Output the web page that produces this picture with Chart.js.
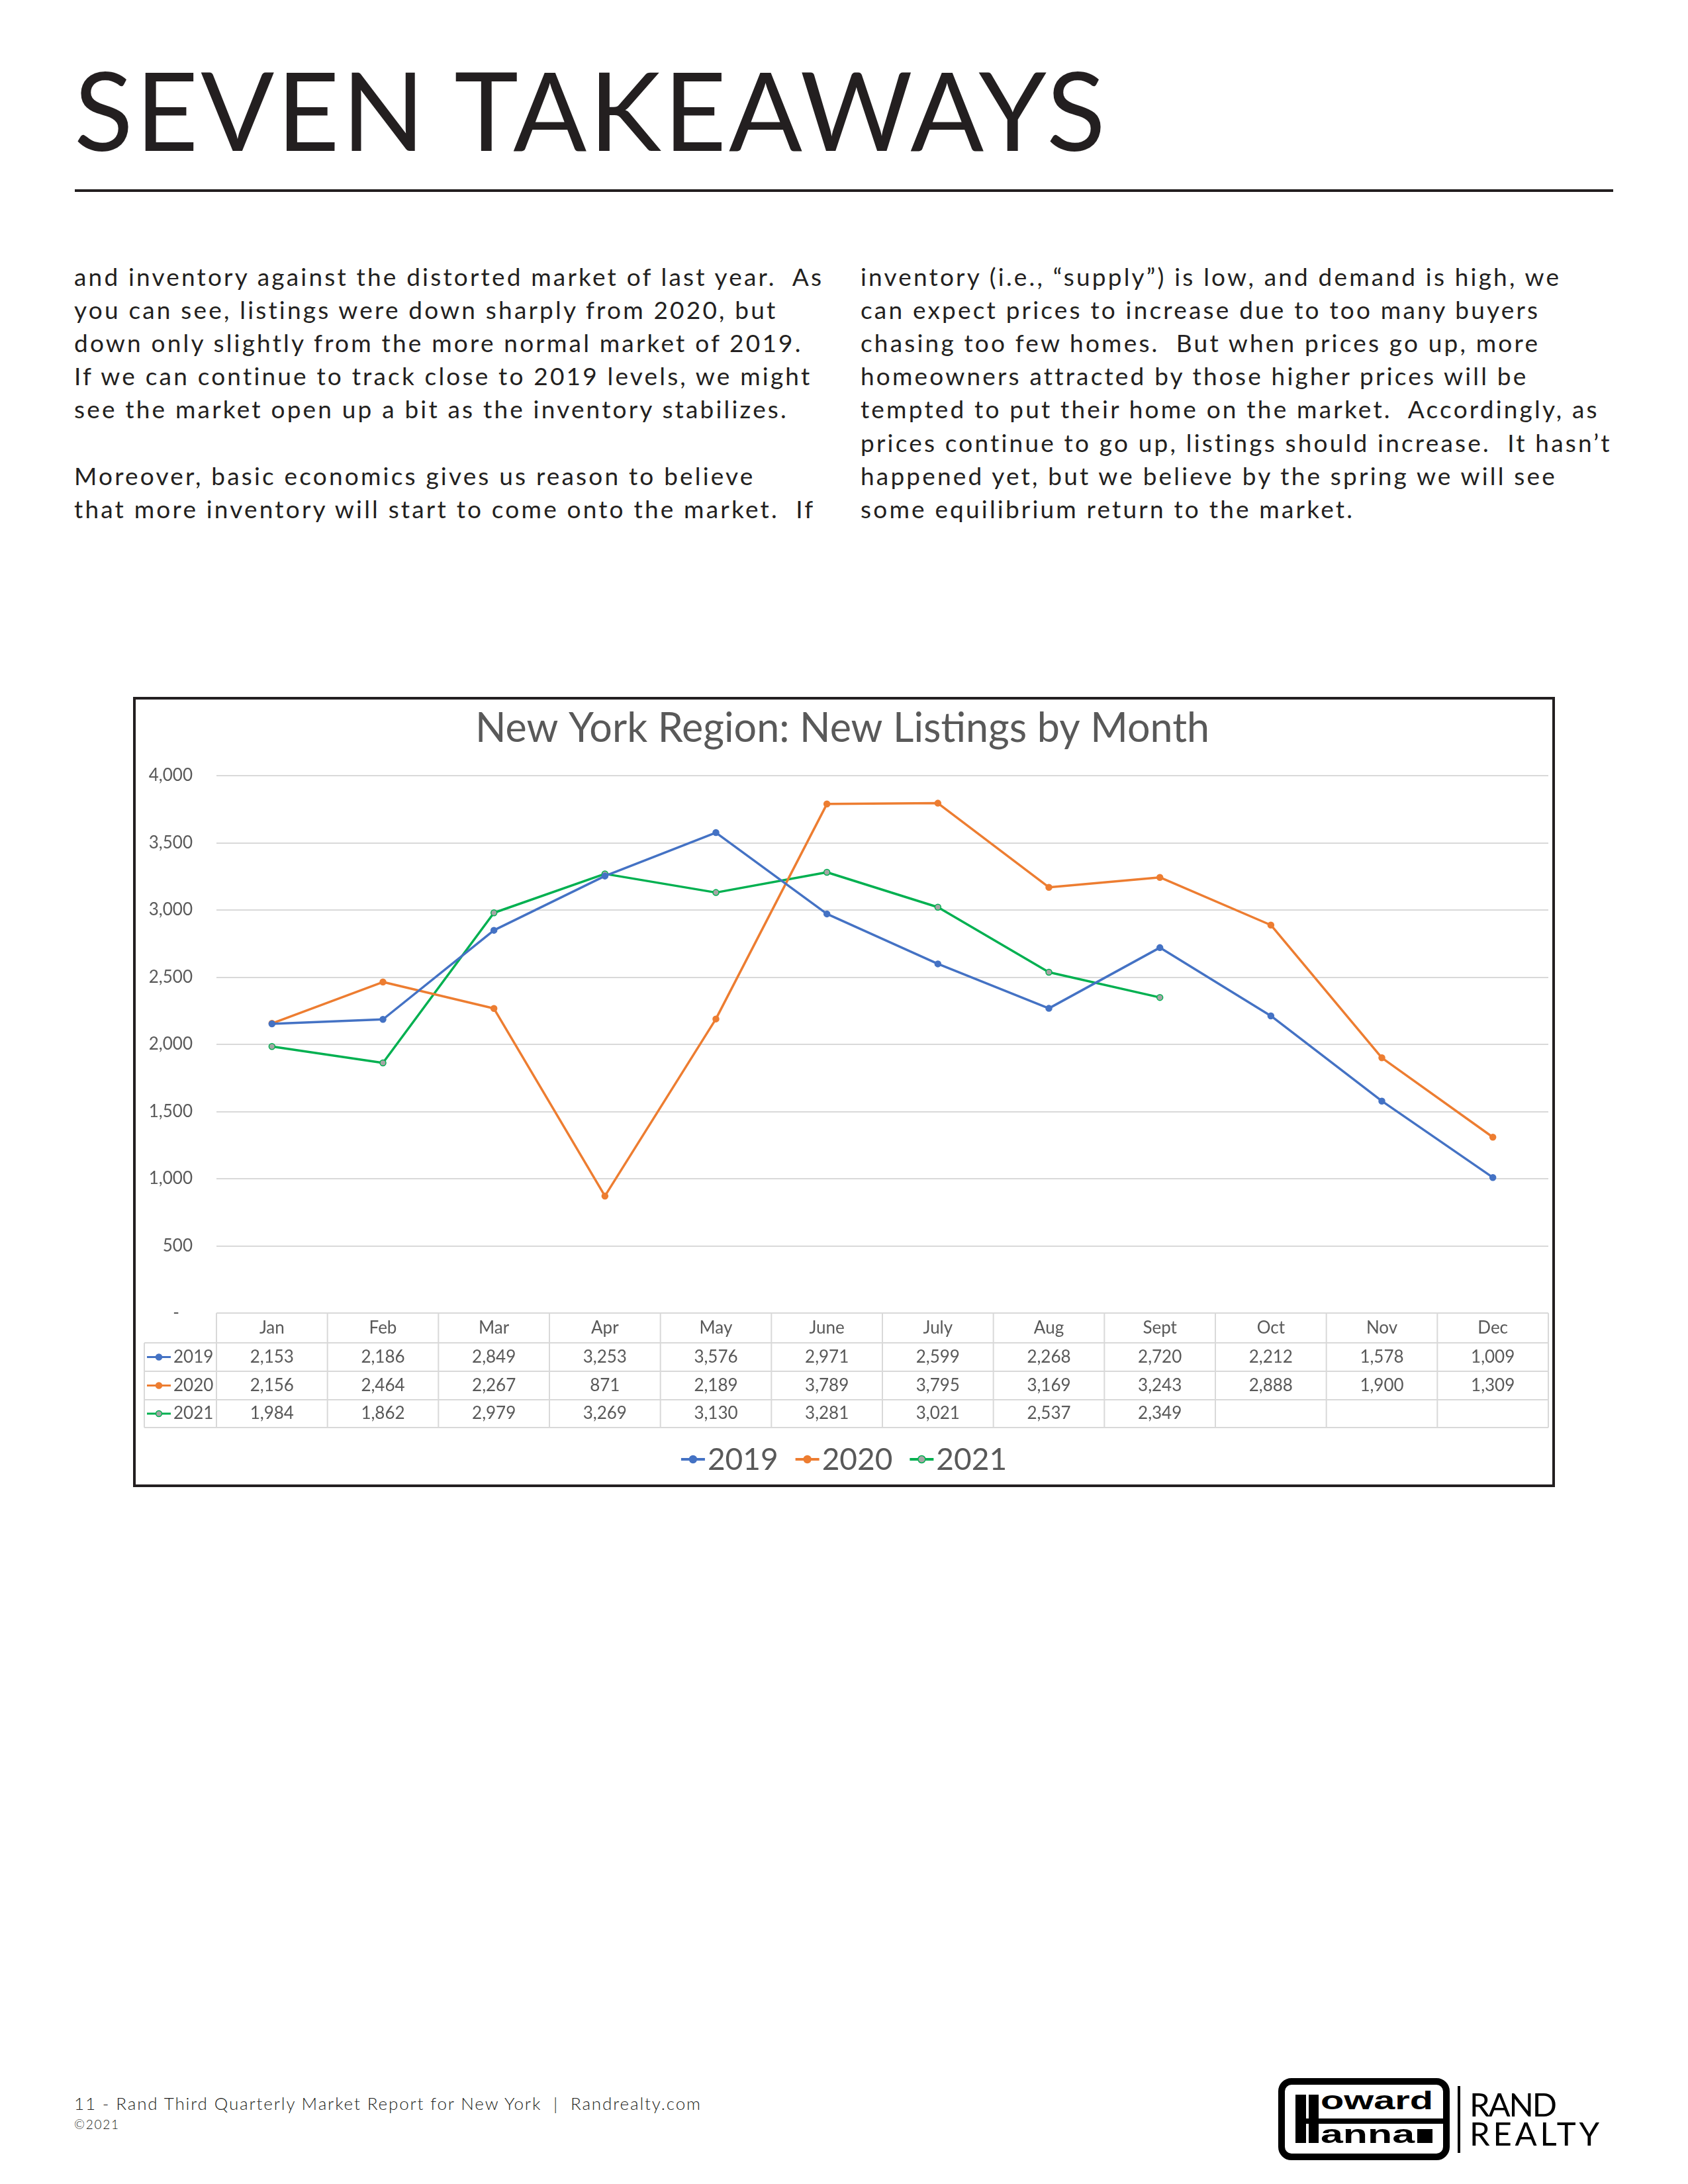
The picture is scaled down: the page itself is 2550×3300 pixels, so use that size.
<!DOCTYPE html>
<html>
<head>
<meta charset="utf-8">
<script src="https://cdn.jsdelivr.net/npm/chart.js@4.4.0/dist/chart.umd.min.js"></script>
<style>
html,body{margin:0;padding:0;background:#fff;}
body{width:2550px;height:3300px;position:relative;overflow:hidden;font-family:Lato,sans-serif;color:#231f20;}
.abs{position:absolute;white-space:pre;}
</style>
</head>
<body>
<div id="pageTitle" class="abs" style="left:112px;top:83px;font-size:164px;line-height:164px;">SEVEN TAKEAWAYS</div>
<div class="abs" style="left:113px;top:286px;width:2324px;height:4px;background:#231f20;"></div>
<div id="colLeft"></div>
<div id="colRight"></div>

<div class="abs" style="left:201px;top:1053px;width:2148px;height:1194px;border:4px solid #231f20;box-sizing:border-box;"></div>
<canvas id="chart" width="2140" height="1186" style="position:absolute;left:205px;top:1057px;width:2140px;height:1186px;"></canvas>

<div id="foot1" class="abs" style="left:112px;top:3165px;font-size:26px;line-height:26px;font-weight:300;">11 - Rand Third Quarterly Market Report for New York  |  Randrealty.com</div>
<div id="foot2" class="abs" style="left:112px;top:3200px;font-size:19px;line-height:19px;font-weight:300;">©2021</div>

<!-- logo -->
<div class="abs" style="left:1931px;top:3140px;width:259px;height:124px;border:10px solid #000;border-radius:20px;box-sizing:border-box;"></div>
<div class="abs" style="left:1957px;top:3165px;width:16px;height:73px;background:#000;"></div>
<div class="abs" style="left:1977px;top:3165px;width:15px;height:73px;background:#000;"></div>
<div class="abs" style="left:1957px;top:3201px;width:225px;height:8px;background:#000;"></div>
<div id="lgOward" class="abs" style="left:1995px;top:3155px;font-family:'Liberation Sans',Arial,sans-serif;font-weight:bold;font-size:38px;line-height:38px;color:#000;transform-origin:0 0;">oward</div>
<div id="lgAnna" class="abs" style="left:1995px;top:3206px;font-family:'Liberation Sans',Arial,sans-serif;font-weight:bold;font-size:38px;line-height:38px;color:#000;transform-origin:0 0;">anna</div>
<div class="abs" style="left:2141px;top:3217px;width:23px;height:21px;background:#000;"></div>
<div class="abs" style="left:2202px;top:3152px;width:4px;height:101px;background:#000;"></div>
<div id="lgRand" class="abs" style="left:2220px;top:3155px;font-size:49px;line-height:49px;color:#000;">RAND</div>
<div id="lgRealty" class="abs" style="left:2220px;top:3199px;font-size:49px;line-height:49px;color:#000;">REALTY</div>

<script>
// ---------- text content ----------
const leftLines = [
  "and inventory against the distorted market of last year.  As",
  "you can see, listings were down sharply from 2020, but",
  "down only slightly from the more normal market of 2019.",
  "If we can continue to track close to 2019 levels, we might",
  "see the market open up a bit as the inventory stabilizes.",
  "",
  "Moreover, basic economics gives us reason to believe",
  "that more inventory will start to come onto the market.  If"
];
const rightLines = [
  "inventory (i.e., \u201csupply\u201d) is low, and demand is high, we",
  "can expect prices to increase due to too many buyers",
  "chasing too few homes.  But when prices go up, more",
  "homeowners attracted by those higher prices will be",
  "tempted to put their home on the market.  Accordingly, as",
  "prices continue to go up, listings should increase.  It hasn\u2019t",
  "happened yet, but we believe by the spring we will see",
  "some equilibrium return to the market."
];

// ---------- chart data ----------
const chartTitle = "New York Region: New Listings by Month";
const months = ["Jan","Feb","Mar","Apr","May","June","July","Aug","Sept","Oct","Nov","Dec"];
const seriesNames = ["2019","2020","2021"];
const listings2019 = [2153,2186,2849,3253,3576,2971,2599,2268,2720,2212,1578,1009];
const listings2020 = [2156,2464,2267,871,2189,3789,3795,3169,3243,2888,1900,1309];
const listings2021 = [1984,1862,2979,3269,3130,3281,3021,2537,2349,null,null,null];
const yTickLabels = ["-","500","1,000","1,500","2,000","2,500","3,000","3,500","4,000"];

// ---------- helpers ----------
function spacingFor(el, target){
  el.style.letterSpacing = "0px";
  const w = el.getBoundingClientRect().width;
  const n = el.textContent.length;
  return (target - w) / Math.max(1, n - 1);
}
function fit(el, target){
  el.style.letterSpacing = spacingFor(el, target) + "px";
}
function fitScale(el, target){
  el.style.transform = "none";
  const w = el.getBoundingClientRect().width;
  el.style.transform = "scaleX(" + (target / w) + ")";
}

const BODY_F = 37, BODY_L = 50.2, BODY_BASE = 432;
function buildColumn(container, lines, left){
  const els = [];
  lines.forEach((t, i) => {
    const d = document.createElement("div");
    d.className = "abs";
    d.style.left = left + "px";
    d.style.top = (BODY_BASE - BODY_L / 2 - 0.387 * BODY_F + i * BODY_L) + "px";
    d.style.fontSize = BODY_F + "px";
    d.style.lineHeight = BODY_L + "px";
    d.textContent = t;
    container.appendChild(d);
    els.push(d);
  });
  return els;
}

const lEls = buildColumn(document.getElementById("colLeft"), leftLines, 112);
const rEls = buildColumn(document.getElementById("colRight"), rightLines, 1300);
const bodyLS = spacingFor(lEls[0], 1129);
lEls.concat(rEls).forEach(e => e.style.letterSpacing = bodyLS + "px");

fit(document.getElementById("pageTitle"), 1558);
fit(document.getElementById("foot1"), 946);
fit(document.getElementById("foot2"), 67);
fitScale(document.getElementById("lgOward"), 170);
fitScale(document.getElementById("lgAnna"), 142);
fit(document.getElementById("lgRand"), 132);
fit(document.getElementById("lgRealty"), 196);

// ---------- chart ----------
const grey = "#595959";
const colors = {
  "2019": {line:"#4472C4", fill:"#4472C4"},
  "2020": {line:"#ED7D31", fill:"#ED7D31"},
  "2021": {line:"#00B050", fill:"#A5A5A5"}
};
const TABLE_H = 173;
const HDR_H = 45;
const ROW_H = [43, 43, 42];

const dataTablePlugin = {
  id: "dataTable",
  afterDraw(chart){
    const ctx = chart.ctx, xs = chart.scales.x, area = chart.chartArea;
    const n = chart.data.labels.length;
    const colW = (xs.right - xs.left) / n;
    const top = area.bottom;
    const ys = [top, top + HDR_H];
    ROW_H.forEach(h => ys.push(ys[ys.length - 1] + h));
    const hdrLeft = xs.left - 109;
    ctx.save();
    ctx.strokeStyle = "#D9D9D9";
    ctx.lineWidth = 2;
    ctx.beginPath();
    ctx.moveTo(xs.left, ys[0]); ctx.lineTo(xs.right, ys[0]);
    for (let r = 1; r < ys.length; r++){ ctx.moveTo(hdrLeft, ys[r]); ctx.lineTo(xs.right, ys[r]); }
    for (let c = 0; c <= n; c++){ const x = xs.left + c * colW; ctx.moveTo(x, ys[0]); ctx.lineTo(x, ys[ys.length-1]); }
    ctx.moveTo(hdrLeft, ys[1]); ctx.lineTo(hdrLeft, ys[ys.length-1]);
    ctx.stroke();

    ctx.fillStyle = grey;
    ctx.font = "26px Lato";
    ctx.textBaseline = "middle";
    ctx.textAlign = "center";
    chart.data.labels.forEach((lab, i) => {
      ctx.fillText(lab, xs.getPixelForValue(i), (ys[0] + ys[1]) / 2);
    });
    chart.data.datasets.forEach((ds, r) => {
      const yMid = (ys[r+1] + ys[r+2]) / 2;
      ds.data.forEach((v, i) => {
        if (v === null || v === undefined) return;
        ctx.fillStyle = grey;
        ctx.textAlign = "center";
        ctx.fillText(v.toLocaleString("en-US"), xs.getPixelForValue(i), yMid);
      });
      ctx.strokeStyle = ds.borderColor;
      ctx.lineWidth = 3;
      ctx.beginPath();
      ctx.moveTo(hdrLeft + 4, yMid); ctx.lineTo(hdrLeft + 40, yMid);
      ctx.stroke();
      ctx.beginPath();
      ctx.arc(hdrLeft + 22, yMid, 4.5, 0, Math.PI * 2);
      ctx.fillStyle = ds.pointBackgroundColor;
      ctx.fill();
      ctx.lineWidth = 1.5;
      ctx.strokeStyle = ds.pointBorderColor;
      ctx.stroke();
      ctx.fillStyle = grey;
      ctx.textAlign = "left";
      ctx.fillText(ds.label, hdrLeft + 44, yMid);
    });
    ctx.restore();
  }
};

const legendPlugin = {
  id: "bottomLegend",
  afterDraw(chart){
    const ctx = chart.ctx;
    const y = chart.chartArea.bottom + TABLE_H + 48;
    ctx.save();
    ctx.font = "46px Lato";
    ctx.textBaseline = "middle";
    ctx.textAlign = "left";
    const lineLen = 36, gapText = 4, gapItem = 26;
    const items = chart.data.datasets.map(ds => ({ds, w: ctx.measureText(ds.label).width}));
    const total = items.reduce((s, it) => s + lineLen + gapText + it.w, 0) + gapItem * (items.length - 1);
    let x = chart.width / 2 - total / 2;
    items.forEach(({ds, w}) => {
      ctx.strokeStyle = ds.borderColor;
      ctx.lineWidth = 4;
      ctx.beginPath(); ctx.moveTo(x, y); ctx.lineTo(x + lineLen, y); ctx.stroke();
      ctx.beginPath(); ctx.arc(x + lineLen / 2, y, 5.5, 0, Math.PI * 2);
      ctx.fillStyle = ds.pointBackgroundColor; ctx.fill();
      ctx.lineWidth = 1.5; ctx.strokeStyle = ds.pointBorderColor; ctx.stroke();
      ctx.fillStyle = grey;
      ctx.fillText(ds.label, x + lineLen + gapText, y + 1);
      x += lineLen + gapText + w + gapItem;
    });
    ctx.restore();
  }
};

function makeDataset(name, values){
  const c = colors[name];
  return {
    label: name,
    data: values,
    borderColor: c.line,
    backgroundColor: c.line,
    pointBackgroundColor: c.fill,
    pointBorderColor: c.line,
    pointBorderWidth: 1.5,
    pointRadius: 4.5,
    pointHoverRadius: 4.5,
    borderWidth: 3.5,
    tension: 0,
    borderJoinStyle: "round",
    borderCapStyle: "round",
    spanGaps: false
  };
}

Chart.defaults.font.family = "Lato";
Chart.defaults.color = grey;

new Chart(document.getElementById("chart"), {
  type: "line",
  data: {
    labels: months,
    datasets: [
      makeDataset(seriesNames[0], listings2019),
      makeDataset(seriesNames[1], listings2020),
      makeDataset(seriesNames[2], listings2021)
    ]
  },
  options: {
    responsive: false,
    devicePixelRatio: 1,
    animation: false,
    events: [],
    layout: { padding: { top: 0, right: 5, bottom: 86, left: 0 } },
    plugins: {
      legend: { display: false },
      tooltip: { enabled: false },
      title: {
        display: true,
        text: chartTitle,
        color: grey,
        font: { family: "Lato", size: 61, weight: "normal", lineHeight: 1.2 },
        padding: { top: 8, bottom: 33.8 }
      }
    },
    scales: {
      x: {
        type: "category",
        offset: true,
        grid: { display: false, drawTicks: false },
        border: { display: false },
        ticks: { display: false },
        afterFit: s => { s.height = TABLE_H; }
      },
      y: {
        min: 0,
        max: 4000,
        ticks: {
          stepSize: 500,
          padding: 36,
          font: { family: "Lato", size: 26 },
          color: grey,
          callback: (v, i) => (i === 0 ? yTickLabels[i] + "   " : yTickLabels[i])
        },
        grid: { color: "#D9D9D9", lineWidth: 2, drawTicks: false },
        border: { display: false },
        afterFit: s => { s.width = 122; }
      }
    }
  },
  plugins: [dataTablePlugin, legendPlugin]
});
</script>
</body>
</html>
